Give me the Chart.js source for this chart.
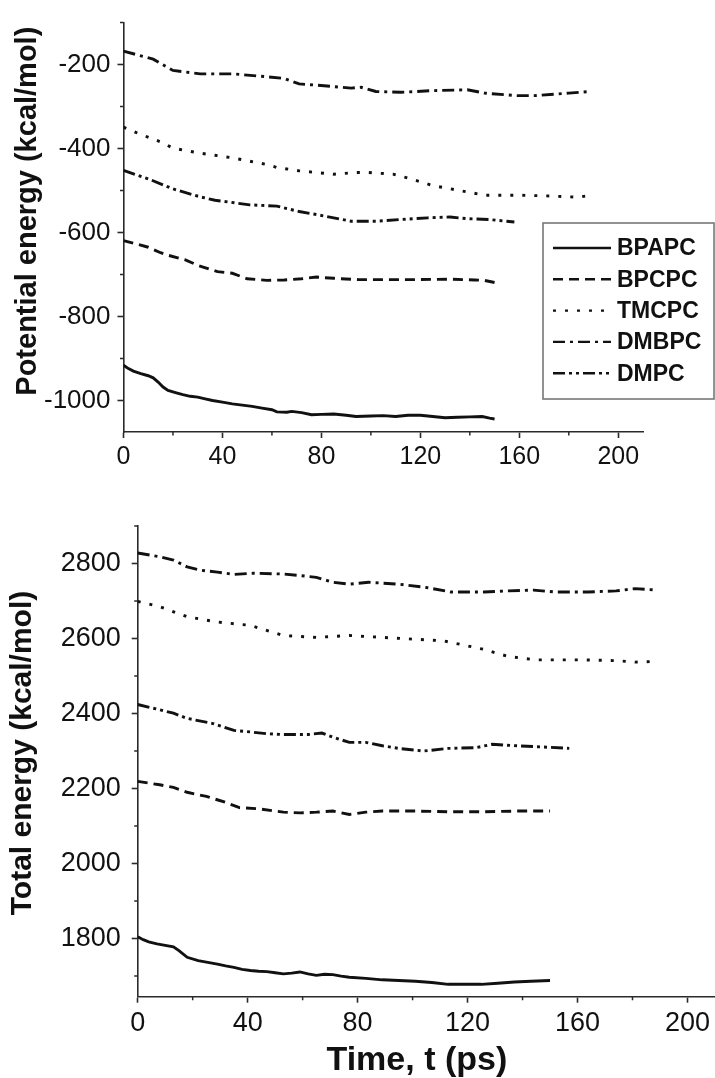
<!DOCTYPE html>
<html>
<head>
<meta charset="utf-8">
<script src="https://cdn.jsdelivr.net/npm/chart.js@4.4.1/dist/chart.umd.min.js"></script>
<style>
  html, body { margin: 0; padding: 0; background: #fff; }
  #wrap { position: relative; width: 715px; height: 1078px; overflow: hidden; }
  canvas { position: absolute; left: 0; }
  #c1 { top: 0; }
  #c2 { top: 490px; }
</style>
</head>
<body>
<div id="wrap">
  <canvas id="c1" width="715" height="490"></canvas>
  <canvas id="c2" width="715" height="588"></canvas>
</div>
<script>
// ---------------- DATA ----------------
const seriesNames = ["BPAPC", "BPCPC", "TMCPC", "DMBPC", "DMPC"];

// Top panel: potential energy (kcal/mol) vs time (ps)
const peBPAPC_t = [0,2,4,7,10,12,14,16,18,21,24,27,30,33,36,40,44,48,52,56,60,62,66,68,72,76,80,85,90,94,100,105,110,115,120,125,130,135,140,145,148,150];
const peBPAPC_v = [-916,-924,-930,-936,-941,-946,-956,-968,-976,-981,-986,-990,-992,-996,-1000,-1004,-1008,-1011,-1014,-1018,-1022,-1027,-1028,-1026,-1029,-1034,-1033,-1032,-1035,-1038,-1037,-1036,-1038,-1035,-1035,-1038,-1041,-1040,-1039,-1038,-1042,-1044];

const peBPCPC_t = [0,5,10,15,18,25,30,38,44,50,58,65,72,78,85,95,105,119,132,142,146,150];
const peBPCPC_v = [-619,-627,-635,-648,-654,-665,-678,-693,-697,-710,-714,-713,-710,-706,-709,-712,-712,-712,-711,-713,-714,-719];

const peTMCPC_t = [0,6,15,20,31,44,58,62,71,85,94,99,109,116,125,135,146,159,173,184,189];
const peTMCPC_v = [-349,-364,-384,-399,-411,-422,-438,-445,-453,-461,-457,-457,-461,-472,-488,-499,-511,-511,-513,-516,-511];

const peDMBPC_t = [0,12,20,31,44,58,65,71,78,92,96,102,112,125,139,146,159,166,180,189];
const peDMBPC_v = [-168,-187,-214,-222,-222,-229,-233,-246,-249,-256,-254,-264,-266,-262,-260,-268,-274,-274,-268,-264];

const peDMPC_t = [0,10,20,31,37,51,62,71,78,92,102,112,123,132,139,148,158];
const peDMPC_v = [-452,-472,-496,-515,-523,-534,-537,-550,-557,-573,-573,-569,-565,-563,-567,-569,-575];

// Bottom panel: total energy (kcal/mol) vs time (ps)
const teBPAPC_t = [0,2,4,7,10,13,15,18,22,26,29,32,35,38,41,44,47,50,53,56,59,62,65,68,71,74,77,83,89,95,101,107,113,119,125,131,137,143,150];
const teBPAPC_v = [1805,1797,1791,1786,1782,1778,1768,1750,1741,1736,1732,1727,1723,1718,1715,1713,1712,1709,1706,1708,1711,1706,1702,1705,1704,1700,1697,1694,1690,1688,1686,1683,1678,1678,1678,1681,1684,1686,1688];

const teBPCPC_t = [0,8,13,18,25,32,37,44,53,59,65,71,77,83,89,101,113,126,138,150];
const teBPCPC_v = [2219,2210,2203,2190,2179,2163,2149,2146,2137,2135,2137,2140,2131,2137,2140,2140,2138,2138,2140,2140];

const teTMCPC_t = [0,8,18,29,41,53,65,77,89,101,111,117,126,130,135,145,162,174,181,189];
const teTMCPC_v = [2699,2685,2658,2644,2635,2608,2603,2608,2603,2598,2594,2585,2571,2562,2552,2543,2543,2541,2537,2539];

const teDMBPC_t = [0,8,13,18,23,29,35,42,53,59,65,71,77,84,95,105,114,126,135,144,152,164,174,181,189];
const teDMBPC_v = [2828,2818,2809,2791,2782,2777,2771,2774,2772,2768,2763,2750,2745,2750,2745,2736,2724,2724,2727,2729,2724,2724,2727,2733,2729];

const teDMPC_t = [0,8,13,18,27,35,41,47,53,62,67,71,77,83,89,95,104,113,123,129,138,147,157];
const teDMPC_v = [2424,2410,2401,2387,2374,2355,2351,2346,2344,2344,2348,2337,2323,2323,2314,2307,2300,2307,2309,2318,2314,2311,2307];

// Tick labels
const xMajorTicks = [0, 40, 80, 120, 160, 200];
const xMinorTicks = [20, 60, 100, 140, 180];
const peMajorTicks = [-200, -400, -600, -800, -1000];
const peMinorTicks = [-100, -300, -500, -700, -900];
const teMajorTicks = [1800, 2000, 2200, 2400, 2600, 2800];
const teMinorTicks = [1700, 1900, 2100, 2300, 2500, 2700, 2900];

// ---------------- STYLE ----------------
const INK = '#111';
const AXIS = '#2a2a2a';
const FONT = "'Liberation Sans', Arial, Helvetica, sans-serif";
const dashStyles = {
  BPAPC: [],
  BPCPC: [10, 6],
  TMCPC: [3, 9],
  DMBPC: [12, 5, 3, 5],
  DMPC: [12, 4, 3, 4, 3, 4]
};

function pts(ts, vs) { return ts.map((t, i) => ({ x: t, y: vs[i] })); }

function makeDatasets(pairs) {
  return seriesNames.map((name, i) => ({
    label: name,
    data: pts(pairs[i][0], pairs[i][1]),
    borderColor: INK,
    borderWidth: 2.9,
    borderDash: dashStyles[name],
    pointRadius: 0,
    tension: 0,
    fill: false
  }));
}

// Minor ticks drawn through the chart's own scales
const minorTickPlugin = {
  id: 'minorTicks',
  afterDraw(chart, args, opts) {
    const ctx = chart.ctx;
    const xs = chart.scales.x, ys = chart.scales.y;
    const area = chart.chartArea;
    ctx.save();
    ctx.strokeStyle = AXIS;
    ctx.lineWidth = 1.5;
    ctx.beginPath();
    (opts.x || []).forEach(v => {
      const px = xs.getPixelForValue(v);
      ctx.moveTo(px, area.bottom);
      ctx.lineTo(px, area.bottom + 3.5);
    });
    (opts.y || []).forEach(v => {
      const py = ys.getPixelForValue(v);
      if (py < area.top - 1 || py > area.bottom + 1) return;
      ctx.moveTo(area.left, py);
      ctx.lineTo(area.left - 3.5, py);
    });
    ctx.stroke();
    ctx.restore();
  }
};

// Boxed legend placed inside the top panel
const boxLegendPlugin = {
  id: 'boxLegend',
  afterDraw(chart, args, opts) {
    if (!opts.show) return;
    const ctx = chart.ctx;
    ctx.save();
    ctx.strokeStyle = '#777';
    ctx.lineWidth = 1.6;
    ctx.strokeRect(opts.left, opts.top, opts.width, opts.height);
    ctx.font = "bold 23px " + FONT;
    ctx.textBaseline = 'middle';
    ctx.fillStyle = INK;
    chart.data.datasets.forEach((ds, i) => {
      const y = opts.firstY + i * opts.step;
      ctx.beginPath();
      ctx.setLineDash(ds.borderDash || []);
      ctx.strokeStyle = INK;
      ctx.lineWidth = 2.4;
      ctx.moveTo(opts.lineX0, y);
      ctx.lineTo(opts.lineX1, y);
      ctx.stroke();
      ctx.setLineDash([]);
      ctx.fillText(ds.label, opts.textX, y + 1);
    });
    ctx.restore();
  }
};

function axisCommon() {
  return {
    border: { display: true, color: AXIS, width: 1.6 },
    grid: { display: true, drawOnChartArea: false, drawTicks: true, tickLength: 6, tickColor: AXIS, tickWidth: 1.6 }
  };
}
const plain = v => String(v);

// ---------------- TOP CHART ----------------
new Chart(document.getElementById('c1'), {
  type: 'line',
  data: {
    datasets: makeDatasets([
      [peBPAPC_t, peBPAPC_v], [peBPCPC_t, peBPCPC_v], [peTMCPC_t, peTMCPC_v],
      [peDMBPC_t, peDMBPC_v], [peDMPC_t, peDMPC_v]
    ])
  },
  options: {
    responsive: false,
    animation: false,
    devicePixelRatio: 1,
    layout: { padding: { top: 12, right: 72, left: 0, bottom: 0 } },
    plugins: {
      legend: { display: false },
      tooltip: { enabled: false },
      minorTicks: { x: xMinorTicks, y: peMinorTicks },
      boxLegend: { show: true, left: 543, top: 223, width: 171, height: 176,
                   lineX0: 553, lineX1: 611, textX: 617, firstY: 248, step: 31.3 }
    },
    scales: {
      x: Object.assign(axisCommon(), {
        type: 'linear', min: 0, max: 210,
        afterBuildTicks: s => { s.ticks = xMajorTicks.map(v => ({ value: v })); },
        afterFit: s => { s.height = 58; },
        ticks: { color: INK, font: { family: FONT, size: 25 }, padding: 4, maxRotation: 0, autoSkip: false, callback: plain }
      }),
      y: Object.assign(axisCommon(), {
        type: 'linear', min: -1075, max: -100,
        afterBuildTicks: s => { s.ticks = peMajorTicks.map(v => ({ value: v })); },
        afterFit: s => { s.width = 123.5; },
        ticks: { color: INK, font: { family: FONT, size: 26 }, padding: 7, autoSkip: false, callback: plain },
        title: { display: true, text: '    Potential energy (kcal/mol)', color: INK,
                 font: { family: FONT, size: 29, weight: 'bold' }, padding: { top: 11, bottom: 0 } }
      })
    }
  },
  plugins: [minorTickPlugin, boxLegendPlugin]
});

// ---------------- BOTTOM CHART ----------------
new Chart(document.getElementById('c2'), {
  type: 'line',
  data: {
    datasets: makeDatasets([
      [teBPAPC_t, teBPAPC_v], [teBPCPC_t, teBPCPC_v], [teTMCPC_t, teTMCPC_v],
      [teDMBPC_t, teDMBPC_v], [teDMPC_t, teDMPC_v]
    ])
  },
  options: {
    responsive: false,
    animation: false,
    devicePixelRatio: 1,
    layout: { padding: { top: 36, right: 0, left: 0, bottom: 0 } },
    plugins: {
      legend: { display: false },
      tooltip: { enabled: false },
      minorTicks: { x: xMinorTicks, y: teMinorTicks },
      boxLegend: { show: false }
    },
    scales: {
      x: Object.assign(axisCommon(), {
        type: 'linear', min: 0, max: 210,
        afterBuildTicks: s => { s.ticks = xMajorTicks.map(v => ({ value: v })); },
        afterFit: s => { s.height = 81.3; },
        ticks: { color: INK, font: { family: FONT, size: 27 }, padding: 5, maxRotation: 0, autoSkip: false, callback: plain },
        title: { display: true, text: 'Time, t (ps)  ', color: INK,
                 font: { family: FONT, size: 34, weight: 'bold', lineHeight: 1.0 }, padding: { top: 0, bottom: 0 } }
      }),
      y: Object.assign(axisCommon(), {
        type: 'linear', min: 1645, max: 2900,
        afterBuildTicks: s => { s.ticks = teMajorTicks.map(v => ({ value: v })); },
        afterFit: s => { s.width = 137.7; },
        ticks: { color: INK, font: { family: FONT, size: 27 }, padding: 11, autoSkip: false, callback: plain },
        title: { display: true, text: '  Total energy (kcal/mol)', color: INK,
                 font: { family: FONT, size: 30, weight: 'bold' }, padding: { top: 5, bottom: 0 } }
      })
    }
  },
  plugins: [minorTickPlugin, boxLegendPlugin]
});
</script>
</body>
</html>
